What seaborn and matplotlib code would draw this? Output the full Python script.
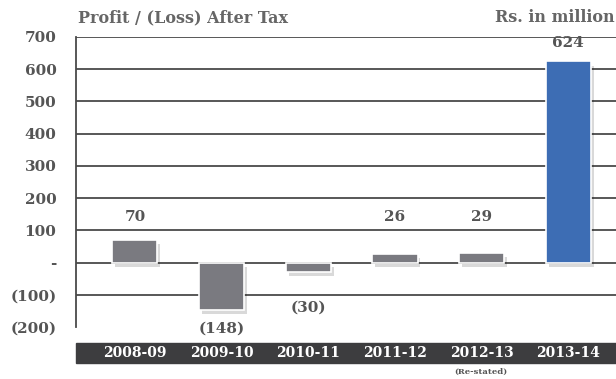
import matplotlib
matplotlib.use("Agg")
import matplotlib.pyplot as plt
import matplotlib.patheffects as pe
from matplotlib.patches import Rectangle
import seaborn as sns
import pandas as pd

years = ["2008-09", "2009-10", "2010-11", "2011-12", "2012-13", "2013-14"]
profit = [70, -148, -30, 26, 29, 624]
value_labels = ["70", "(148)", "(30)", "26", "29", "624"]
ytick_vals = [-200, -100, 0, 100, 200, 300, 400, 500, 600, 700]
ytick_labels = ["(200)", "(100)", "-", "100", "200", "300", "400", "500", "600", "700"]
label_y = [140, -205, -140, 140, 140, 681]

sns.set_theme(style="white")
plt.rcParams["font.family"] = ["DejaVu Serif"]
plt.rcParams["font.weight"] = "bold"

df = pd.DataFrame({"year": years, "profit": profit})
colors = ["#7a7a80"] * 5 + ["#3d6db4"]

fig = plt.figure(figsize=(6.16, 3.79), dpi=100)
ax = fig.add_axes([76 / 616, 1 - 327 / 379, 1 - 76 / 616, (327 - 37) / 379])

sns.barplot(data=df, x="year", y="profit", hue="year", palette=colors,
            legend=False, width=0.52, ax=ax, saturation=1, zorder=3)
for p in ax.patches:
    p.set_edgecolor("white")
    p.set_linewidth(1.2)
    p.set_path_effects([pe.SimplePatchShadow(offset=(2, -3), shadow_rgbFace="#000000", alpha=0.15),
                        pe.Normal()])

ax.set_ylim(-200, 700)
ax.set_xlim(-0.68, 5.55)
for v in ytick_vals[1:]:
    ax.axhline(v, color="#4a4a4a", lw=1.3, zorder=1)
ax.set_yticks(ytick_vals)
ax.set_yticklabels(ytick_labels, fontsize=11, color="#555555", fontweight="bold")
ax.tick_params(axis="y", length=0, pad=14)
for s in ["top", "right", "bottom"]:
    ax.spines[s].set_visible(False)
ax.spines["left"].set_color("#4a4a4a")
ax.spines["left"].set_linewidth(1.3)
ax.set_xlabel("")
ax.set_ylabel("")

ax.set_xticks(range(len(years)))
ax.set_xticklabels(years, fontsize=10, color="white", fontweight="bold")
ax.tick_params(axis="x", length=0, pad=14)

band = Rectangle((76 / 616, 1 - 363 / 379), 1 - 76 / 616, 20 / 379,
                 transform=fig.transFigure, color="#3d3d3f", zorder=-1)
fig.patches.append(band)

for i, (lab, yy) in enumerate(zip(value_labels, label_y)):
    ax.text(i, yy, lab, ha="center", va="center", fontsize=11,
            color="#555555", fontweight="bold", zorder=5)

fig.text(78 / 616, 1 - 18 / 379, "Profit / (Loss) After Tax", ha="left", va="center",
         fontsize=11.5, color="#666666", fontweight="bold")
fig.text(615 / 616, 1 - 18 / 379, "Rs. in million", ha="right", va="center",
         fontsize=11.5, color="#666666", fontweight="bold")
fig.text(481 / 616, 1 - 372 / 379, "(Re-stated)", ha="center", va="center",
         fontsize=6, color="#555555", fontweight="bold")

fig.savefig("out.png", dpi=100)
